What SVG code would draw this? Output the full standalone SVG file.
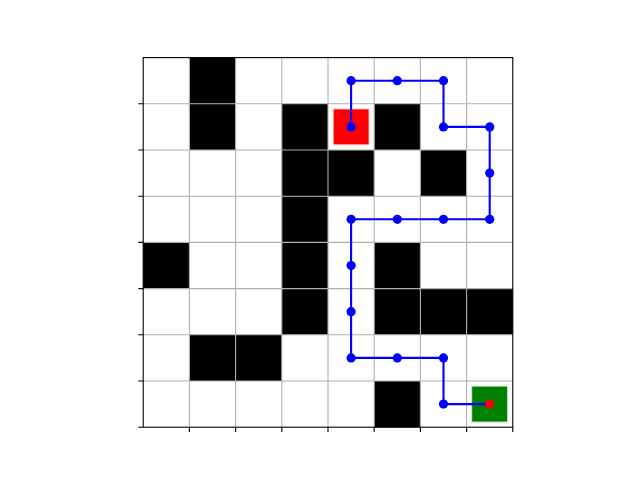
<svg xmlns="http://www.w3.org/2000/svg" width="640" height="480" viewBox="0 0 640 480">
<style>
.cell{fill:#000}
.grid{stroke:#b0b0b0;stroke-width:1.1;fill:none}
.spine{stroke:#000;stroke-width:1.1;fill:none}
.tick{stroke:#000;stroke-width:1.1}
.path{stroke:#0000ff;stroke-width:2.1;fill:none;stroke-linejoin:round}
.dot{fill:#0000ff}
</style>
<rect width="640" height="480" fill="#fff"/>
<g id="cells">
<rect class="cell" x="189.4" y="57.6" width="46.2" height="46.2"/>
<rect class="cell" x="189.4" y="103.8" width="46.2" height="46.2"/>
<rect class="cell" x="281.8" y="103.8" width="46.2" height="46.2"/>
<rect class="cell" x="374.2" y="103.8" width="46.2" height="46.2"/>
<rect class="cell" x="281.8" y="150" width="46.2" height="46.2"/>
<rect class="cell" x="328" y="150" width="46.2" height="46.2"/>
<rect class="cell" x="420.4" y="150" width="46.2" height="46.2"/>
<rect class="cell" x="281.8" y="196.2" width="46.2" height="46.2"/>
<rect class="cell" x="143.2" y="242.4" width="46.2" height="46.2"/>
<rect class="cell" x="281.8" y="242.4" width="46.2" height="46.2"/>
<rect class="cell" x="374.2" y="242.4" width="46.2" height="46.2"/>
<rect class="cell" x="281.8" y="288.6" width="46.2" height="46.2"/>
<rect class="cell" x="374.2" y="288.6" width="46.2" height="46.2"/>
<rect class="cell" x="420.4" y="288.6" width="46.2" height="46.2"/>
<rect class="cell" x="466.6" y="288.6" width="46.2" height="46.2"/>
<rect class="cell" x="189.4" y="334.8" width="46.2" height="46.2"/>
<rect class="cell" x="235.6" y="334.8" width="46.2" height="46.2"/>
<rect class="cell" x="374.2" y="381" width="46.2" height="46.2"/>
</g>
<g id="grid" class="grid">
<path d="M189.4 57.6V427.2M235.6 57.6V427.2M281.8 57.6V427.2M328 57.6V427.2M374.2 57.6V427.2M420.4 57.6V427.2M466.6 57.6V427.2"/>
<path d="M143.2 103.8H512.8M143.2 150H512.8M143.2 196.2H512.8M143.2 242.4H512.8M143.2 288.6H512.8M143.2 334.8H512.8M143.2 381H512.8"/>
</g>
<g id="start"><rect x="333.1" y="108.9" width="36" height="36" fill="#ff0000" stroke="#ffdddd" stroke-width="1"/></g>
<g id="goal"><rect x="471.7" y="386.1" width="36" height="36" fill="#008000" stroke="#d8ecd8" stroke-width="1"/></g>
<g id="connectors">
<polyline class="path" points="351.1,126.9 351.1,80.7 397.3,80.7 443.5,80.7 443.5,126.9 489.7,126.9 489.7,173.1 489.7,219.3 443.5,219.3 397.3,219.3 351.1,219.3 351.1,265.5 351.1,311.7 351.1,357.9 397.3,357.9 443.5,357.9 443.5,404.1 489.7,404.1"/>
</g>
<g id="waypoints">
<circle class="dot" cx="351.1" cy="126.9" r="4.6"/>
<circle class="dot" cx="351.1" cy="80.7" r="4.6"/>
<circle class="dot" cx="397.3" cy="80.7" r="4.6"/>
<circle class="dot" cx="443.5" cy="80.7" r="4.6"/>
<circle class="dot" cx="443.5" cy="126.9" r="4.6"/>
<circle class="dot" cx="489.7" cy="126.9" r="4.6"/>
<circle class="dot" cx="489.7" cy="173.1" r="4.6"/>
<circle class="dot" cx="489.7" cy="219.3" r="4.6"/>
<circle class="dot" cx="443.5" cy="219.3" r="4.6"/>
<circle class="dot" cx="397.3" cy="219.3" r="4.6"/>
<circle class="dot" cx="351.1" cy="219.3" r="4.6"/>
<circle class="dot" cx="351.1" cy="265.5" r="4.6"/>
<circle class="dot" cx="351.1" cy="311.7" r="4.6"/>
<circle class="dot" cx="351.1" cy="357.9" r="4.6"/>
<circle class="dot" cx="397.3" cy="357.9" r="4.6"/>
<circle class="dot" cx="443.5" cy="357.9" r="4.6"/>
<circle class="dot" cx="443.5" cy="404.1" r="4.6"/>
<circle cx="489.7" cy="404.1" r="4.6" fill="#ff0000"/>
</g>
<g id="axes">
<rect class="spine" x="143.2" y="57.6" width="369.6" height="369.6"/>
<path class="tick" d="M143.2 103.8h-4.9M143.2 150h-4.9M143.2 196.2h-4.9M143.2 242.4h-4.9M143.2 288.6h-4.9M143.2 334.8h-4.9M143.2 381h-4.9M143.2 427.2h-4.9"/>
<path class="tick" d="M189.4 427.2v4.9M235.6 427.2v4.9M281.8 427.2v4.9M328 427.2v4.9M374.2 427.2v4.9M420.4 427.2v4.9M466.6 427.2v4.9M512.8 427.2v4.9"/>
</g>
</svg>
